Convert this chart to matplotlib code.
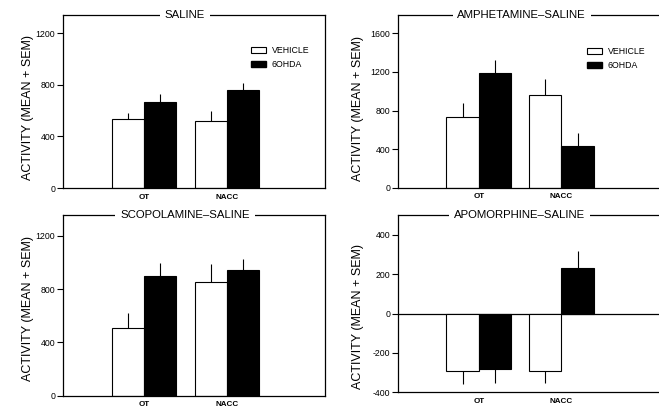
import matplotlib
matplotlib.use('Agg')
from matplotlib import pyplot as plt
from matplotlib.patches import Patch

plt.rcParams['font.family'] = ['Liberation Sans', 'DejaVu Sans']
plt.rcParams['axes.unicode_minus'] = False

# 資料：兩個腦區，每組為平均值與SEM
groups = ['OT', 'NACC']
series_names = ['VEHICLE', '6OHDA']

saline_vehicle = [534, 521]
saline_vehicle_sem = [46, 75]
saline_6ohda = [663, 758]
saline_6ohda_sem = [62, 57]

amph_vehicle = [730, 964]
amph_vehicle_sem = [151, 160]
amph_6ohda = [1193, 435]
amph_6ohda_sem = [131, 129]

scop_vehicle = [505, 850]
scop_vehicle_sem = [118, 135]
scop_6ohda = [900, 940]
scop_6ohda_sem = [93, 85]

apo_vehicle = [-292, -292]
apo_vehicle_sem = [67, 62]
apo_6ohda = [-280, 231]
apo_6ohda_sem = [71, 89]

YLABEL = 'ACTIVITY (MEAN + SEM)'
W = 0.39


def one_sided(means, sems):
    lower = [s if m < 0 else 0 for m, s in zip(means, sems)]
    upper = [0 if m < 0 else s for m, s in zip(means, sems)]
    return [lower, upper]


def draw_panel(ax, title, veh, veh_sem, ohda, ohda_sem, ylim, yticks,
               title_x, label_xy, legend_xy=None, right_spine=True):
    x = list(range(len(groups)))
    xv = [i - W / 2 for i in x]
    xo = [i + W / 2 for i in x]
    ax.bar(xv, veh, W, color='white', edgecolor='black', linewidth=0.8,
           zorder=2)
    ax.bar(xo, ohda, W, color='black', edgecolor='black', linewidth=0.8,
           zorder=2)
    ax.errorbar(xv, veh, yerr=one_sided(veh, veh_sem), fmt='none',
                ecolor='black', elinewidth=0.8, capsize=0, zorder=3)
    ax.errorbar(xo, ohda, yerr=one_sided(ohda, ohda_sem), fmt='none',
                ecolor='black', elinewidth=0.8, capsize=0, zorder=3)
    if ylim[0] < 0:
        ax.axhline(0, color='black', linewidth=0.9, zorder=1)
    ax.set_xlim(-0.976, 2.18)
    ax.set_ylim(*ylim)
    ax.set_yticks(yticks)
    ax.set_xticks(x)
    ax.set_xticklabels(groups, fontsize=5.8, fontweight='bold')
    ax.tick_params(axis='x', length=0, pad=4)
    ax.tick_params(axis='y', direction='out', length=4, width=0.8,
                   labelsize=6.3, pad=1.5)
    for s in ax.spines.values():
        s.set_linewidth(0.9)
    ax.spines['right'].set_visible(right_spine)
    ax.set_ylabel(YLABEL, fontsize=9)
    ax.yaxis.set_label_coords(*label_xy)
    ax.text(title_x, 1.0, title, transform=ax.transAxes, ha='center',
            va='center', fontsize=8.2,
            bbox=dict(facecolor='white', edgecolor='none', pad=3.5),
            zorder=5)
    if legend_xy is not None:
        handles = [Patch(facecolor='white', edgecolor='black', linewidth=0.8),
                   Patch(facecolor='black', edgecolor='black')]
        ax.legend(handles, series_names, loc='upper left',
                  bbox_to_anchor=legend_xy, frameon=False, fontsize=6.3,
                  handlelength=1.8, handleheight=0.7, handletextpad=0.6,
                  labelspacing=0.55, borderpad=0, borderaxespad=0)


fig = plt.figure(figsize=(6.59, 4.09), dpi=100)
ax_tl = fig.add_axes([63 / 659, 1 - 188 / 409, 262 / 659, 173 / 409])
ax_tr = fig.add_axes([398 / 659, 1 - 187.7 / 409, 261 / 659, 172.7 / 409])
ax_bl = fig.add_axes([63 / 659, 1 - 395.7 / 409, 262 / 659, 180.7 / 409])
ax_br = fig.add_axes([398 / 659, 1 - 392.3 / 409, 261 / 659, 177.3 / 409])

draw_panel(ax_tl, 'SALINE', saline_vehicle, saline_vehicle_sem,
           saline_6ohda, saline_6ohda_sem, (0, 1340), [0, 400, 800, 1200],
           0.466, (-0.112, 0.465), legend_xy=(0.716, 0.82))
draw_panel(ax_tr, 'AMPHETAMINE\u2013SALINE', amph_vehicle, amph_vehicle_sem,
           amph_6ohda, amph_6ohda_sem, (0, 1790), [0, 400, 800, 1200, 1600],
           0.474, (-0.132, 0.46), legend_xy=(0.723, 0.815),
           right_spine=False)
draw_panel(ax_bl, 'SCOPOLAMINE\u2013SALINE', scop_vehicle, scop_vehicle_sem,
           scop_6ohda, scop_6ohda_sem, (0, 1355), [0, 400, 800, 1200],
           0.466, (-0.112, 0.484))
draw_panel(ax_br, 'APOMORPHINE\u2013SALINE', apo_vehicle, apo_vehicle_sem,
           apo_6ohda, apo_6ohda_sem, (-400, 501),
           [-400, -200, 0, 200, 400], 0.467, (-0.132, 0.426),
           right_spine=False)

fig.savefig('out.png', dpi=100)
